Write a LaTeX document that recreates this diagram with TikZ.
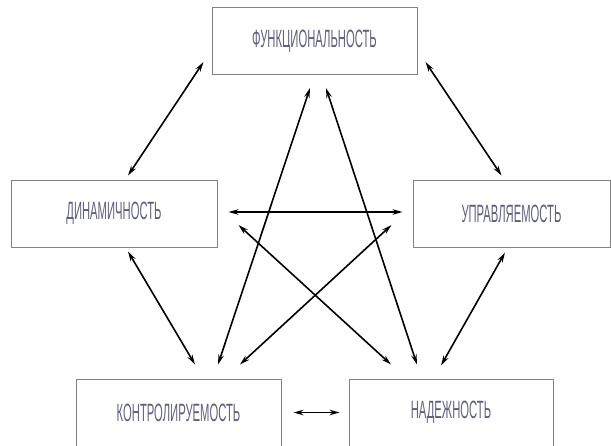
\documentclass[tikz,border=0pt]{standalone}
\usepackage{fontspec}
\setmainfont{Liberation Sans}[FakeStretch=0.45]
\usetikzlibrary{arrows.meta,calc}
\definecolor{boxgray}{RGB}{130,130,130}
\definecolor{txtgray}{RGB}{95,95,125}
\tikzset{
  qbox/.style={draw=boxgray,line width=1pt,minimum width=#1,minimum height=67pt,inner sep=0pt,
    font=\fontsize{25}{25}\selectfont,text=txtgray},
  link/.style={line width=1.6pt,{Stealth[length=10pt,width=5.5pt]}-{Stealth[length=10pt,width=5.5pt]}}
}
\begin{document}
\begin{tikzpicture}[x=1pt,y=-1pt]
\useasboundingbox (0,0) rectangle (611,445);
\node[qbox=205pt] (f) at (314.5,41) {ФУНКЦИОНАЛЬНОСТЬ};
\node[qbox=206pt] (d) at (114,213.5) {ДИНАМИЧНОСТЬ};
\node[qbox=197pt] (u) at (511.5,213.5) {УПРАВЛЯЕМОСТЬ};
\node[qbox=205pt] (k) at (178.5,412.5) {КОНТРОЛИРУЕМОСТЬ};
\node[qbox=204pt] (n) at (451,412.5) {НАДЕЖНОСТЬ};
% free ends as named coordinates relative to nodes
\coordinate (fd1) at ($(f.south west)+(-8,-13)$);
\coordinate (fd2) at ($(d.north)+(14,-4)$);
\coordinate (fu1) at ($(f.south east)+(8,-13)$);
\coordinate (fu2) at ($(u.north)+(-10,-4)$);
\coordinate (dk1) at ($(d.south)+(14,4)$);
\coordinate (dk2) at ($(k.north)+(16.5,-14)$);
\coordinate (un1) at ($(u.south)+(-6.5,5)$);
\coordinate (un2) at ($(n.north)+(-10,-13)$);
\coordinate (kn1) at ($(k.east)+(12,0)$);
\coordinate (kn2) at ($(n.west)+(-9,0)$);
\coordinate (du1) at ($(d.east)+(11,-1.5)$);
\coordinate (du2) at ($(u.west)+(-10,-1.5)$);
\coordinate (fk1) at ($(f.south)+(-4.5,13)$);
\coordinate (fk2) at ($(k.north)+(39.5,-14)$);
\coordinate (fn1) at ($(f.south)+(11.5,13)$);
\coordinate (fn2) at ($(n.north)+(-34,-14)$);
\coordinate (dn1) at ($(d.east)+(21,11.5)$);
\coordinate (dn2) at ($(n.north)+(-60,-14)$);
\coordinate (uk1) at ($(u.west)+(-21,11.5)$);
\coordinate (uk2) at ($(k.north)+(61.5,-14)$);
\draw[link] (fd1) -- (fd2);
\draw[link] (fu1) -- (fu2);
\draw[link] (dk1) -- (dk2);
\draw[link] (un1) -- (un2);
\draw[link] (kn1) -- (kn2);
\draw[link] (du1) -- (du2);
\draw[link] (fk1) -- (fk2);
\draw[link] (fn1) -- (fn2);
\draw[link] (dn1) -- (dn2);
\draw[link] (uk1) -- (uk2);
\end{tikzpicture}
\end{document}
